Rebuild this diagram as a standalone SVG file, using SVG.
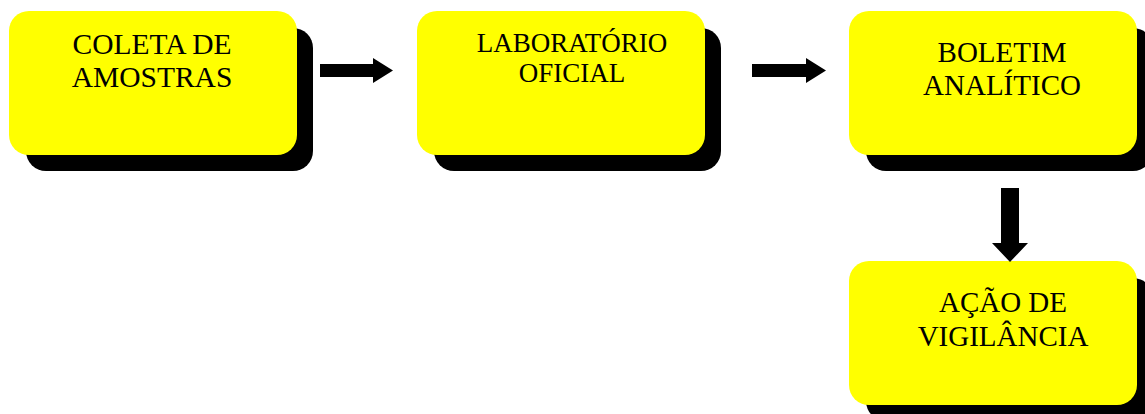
<svg xmlns="http://www.w3.org/2000/svg" width="1145" height="414" viewBox="0 0 1145 414">
<style>
.sh{fill:#000}
.bx{fill:#ffff00}
.t{font-family:"Liberation Serif","Times New Roman",serif;fill:#000;text-anchor:middle}
.ar{fill:#000}
</style>
<rect width="1145" height="414" fill="#fff"/>
<g id="n1">
<rect class="sh" x="26" y="28" width="287" height="143" rx="20"/>
<rect class="bx" x="9" y="11" width="288" height="144" rx="20"/>
<text class="t" x="152" y="54" font-size="29.5">COLETA DE</text>
<text class="t" x="152" y="87" font-size="29.5">AMOSTRAS</text>
</g>
<g id="n2">
<rect class="sh" x="434" y="28" width="287" height="143" rx="20"/>
<rect class="bx" x="417" y="11" width="288" height="144" rx="20"/>
<text class="t" x="572" y="52" font-size="27">LABORATÓRIO</text>
<text class="t" x="572" y="82" font-size="27">OFICIAL</text>
</g>
<g id="n3">
<rect class="sh" x="866" y="28" width="287" height="143" rx="20"/>
<rect class="bx" x="849" y="11" width="288" height="144" rx="20"/>
<text class="t" x="1002" y="62" font-size="29">BOLETIM</text>
<text class="t" x="1002" y="95" font-size="29">ANALÍTICO</text>
</g>
<g id="n4">
<rect class="sh" x="866" y="278" width="287" height="143" rx="20"/>
<rect class="bx" x="849" y="261" width="288" height="144" rx="20"/>
<text class="t" x="1003" y="312" font-size="29">AÇÃO DE</text>
<text class="t" x="1003" y="346" font-size="29">VIGILÂNCIA</text>
</g>
<g id="connectors">
<polygon class="ar" points="320,64 373,64 373,58 393,70.5 373,83 373,77 320,77"/>
<polygon class="ar" points="752,64 806,64 806,58 826,70.5 806,83 806,77 752,77"/>
<polygon class="ar" points="1001,188 1019,188 1019,243 1028,243 1010,262 992,243 1001,243"/>
</g>
</svg>
